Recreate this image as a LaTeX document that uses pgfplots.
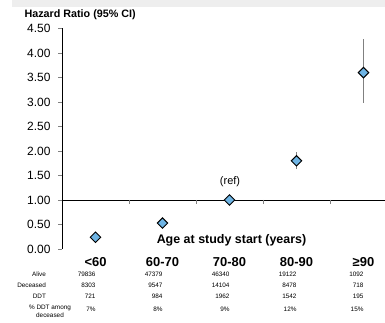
\documentclass[border=0pt]{standalone}
\usepackage{pgfplots}
\pgfplotsset{compat=1.18}
\usepackage{fontspec}
\setmainfont{Liberation Sans}
\definecolor{mk}{RGB}{110,180,228}
\definecolor{strip}{RGB}{238,238,238}
\pgfplotstableread{
x y ep em
0 0.24 0.02 0.02
1 0.53 0.03 0.03
2 1.00 0.00 0.00
3 1.80 0.12 0.12
4 3.60 0.63 0.56
}\hrdata
\newcommand{\tbl}{\fontsize{6.4}{7.5}\selectfont}
\begin{document}
\begin{tikzpicture}[x=1bp,y=1bp]
\path[use as bounding box] (0,0) rectangle (385,323);
\fill[strip] (12,316) rectangle (385,323);
\begin{axis}[
  at={(62bp,74bp)}, anchor=south west, scale only axis,
  width=335bp, height=220.5bp,
  xmin=-0.5, xmax=4.5, ymin=0, ymax=4.5,
  clip=false,
  axis x line=none,
  axis y line*=left,
  y axis line style={-, black, line width=0.8bp},
  xtick=\empty,
  ytick={0,0.5,1,1.5,2,2.5,3,3.5,4,4.5},
  tick align=outside,
  major tick length=4bp,
  ytick style={gray, line width=0.6bp},
  yticklabel style={font=\fontsize{12}{14}\selectfont, /pgf/number format/fixed, /pgf/number format/fixed zerofill, /pgf/number format/precision=2, /pgf/number format/assume math mode=true, xshift=-4bp},
]
\draw[black, line width=0.8bp] (axis cs:-0.5,1) -- (axis cs:4.5,1);
\draw[gray, line width=0.6bp] (axis cs:0.5,1) -- ([yshift=-4bp]axis cs:0.5,1);
\draw[gray, line width=0.6bp] (axis cs:1.5,1) -- ([yshift=-4bp]axis cs:1.5,1);
\draw[gray, line width=0.6bp] (axis cs:2.5,1) -- ([yshift=-4bp]axis cs:2.5,1);
\draw[gray, line width=0.6bp] (axis cs:3.5,1) -- ([yshift=-4bp]axis cs:3.5,1);
\addplot[only marks, mark=square*, mark size=3.7bp,
  mark options={rotate=45, fill=mk, draw=black, line width=1bp},
  error bars/.cd, y dir=both, y explicit,
  error bar style={gray, line width=0.9bp},
  error mark options={gray, mark size=2.5bp, line width=0.9bp}]
  table[x=x, y=y, y error plus=ep, y error minus=em]{\hrdata};
\end{axis}
% texts
\node[anchor=west, font=\bfseries\fontsize{10.8}{13}\selectfont] at (21,308.5) {Hazard Ratio (95\% CI)};
\node[font=\fontsize{11}{13}\selectfont] at (230,141.5) {(ref)};
\node[font=\bfseries\fontsize{12.5}{15}\selectfont] at (231.5,83) {Age at study start (years)};
% category labels
\foreach \cx/\lab in {95.5/{<60},162.5/{60-70},229.5/{70-80},296.5/{80-90},363.5/{≥90}}
  \node[font=\bfseries\fontsize{13}{15}\selectfont] at (\cx,61) {\lab};
% row labels
\node[anchor=east, font=\tbl] at (49.5,49) {Alive};
\node[anchor=east, font=\tbl] at (49.5,38) {Deceased};
\node[anchor=east, font=\tbl] at (49.5,27) {DDT};
\node[align=center, font=\tbl, inner sep=0pt] at (50,12) {\% DDT among\\[0.8bp]deceased};
% numbers
\foreach \cx/\a/\d/\t/\p in {95.5/79836/8303/721/7,162.5/47379/9547/984/8,229.5/46340/14104/1962/9,296.5/19122/8478/1542/12,363.5/1092/718/195/15}{
  \node[anchor=east, font=\tbl] at (\cx+3.5,49) {\a};
  \node[anchor=east, font=\tbl] at (\cx+3.5,38) {\d};
  \node[anchor=east, font=\tbl] at (\cx+3.5,27) {\t};
  \node[anchor=east, font=\tbl] at (\cx+3.5,14) {\p\%};
}
\end{tikzpicture}
\end{document}
